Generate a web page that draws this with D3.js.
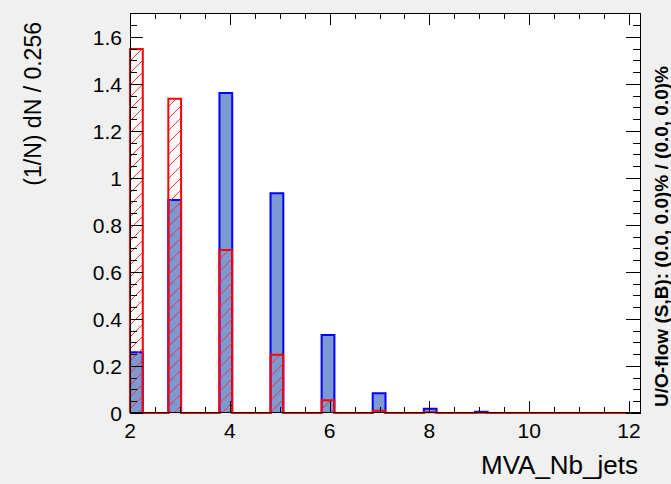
<!DOCTYPE html>
<html>
<head>
<meta charset="utf-8">
<script src="https://cdn.jsdelivr.net/npm/d3@7"></script>
<style>
  html, body { margin: 0; padding: 0; background: #f0f0f0; }
  svg { display: block; }
  text { font-family: "Liberation Sans", Arial, Helvetica, sans-serif; fill: #000; }
</style>
</head>
<body>
<script>
// Histogram binning of MVA_Nb_jets
const binLow = 2;
const binWidth = 0.256;
const nBins = 40;

// Normalised densities (1/N) dN / 0.256 per bin
const signal = [
  0.258, 0, 0, 0.906, 0, 0, 0, 1.362, 0, 0,
  0, 0.935, 0, 0, 0, 0.332, 0, 0, 0, 0.084,
  0, 0, 0, 0.018, 0, 0, 0, 0.005, 0, 0,
  0, 0, 0, 0, 0, 0, 0, 0, 0, 0
];
const background = [
  1.549, 0, 0, 1.337, 0, 0, 0, 0.694, 0, 0,
  0, 0.248, 0, 0, 0, 0.054, 0, 0, 0, 0.010,
  0, 0, 0, 0.003, 0, 0, 0, 0.001, 0, 0,
  0, 0, 0, 0, 0, 0, 0, 0, 0, 0
];

// Axis ticks and labels
const xMajor = [2, 4, 6, 8, 10, 12];
const xMajorLabels = ["2", "4", "6", "8", "10", "12"];
const yMajor = [0, 0.2, 0.4, 0.6, 0.8, 1.0, 1.2, 1.4, 1.6];
const yMajorLabels = ["0", "0.2", "0.4", "0.6", "0.8", "1", "1.2", "1.4", "1.6"];
const yMax = 1.702;

const xTitle = "MVA_Nb_jets";
const yTitle = "(1/N) dN / 0.256";
const flowText = "U/O-flow (S,B): (0.0, 0.0)% / (0.0, 0.0)%";

const W = 671, H = 484;
const frame = { left: 130, right: 641, top: 13, bottom: 413 };

const svg = d3.select("body").append("svg")
  .attr("width", W).attr("height", H);

svg.append("rect").attr("width", W).attr("height", H).attr("fill", "#f0f0f0");

const xMaxVal = binLow + nBins * binWidth;
const x = d3.scaleLinear().domain([binLow, xMaxVal]).range([frame.left, frame.right]);
const y = d3.scaleLinear().domain([0, yMax]).range([frame.bottom, frame.top]);

// plot frame
svg.append("rect")
  .attr("x", frame.left).attr("y", frame.top)
  .attr("width", frame.right - frame.left)
  .attr("height", frame.bottom - frame.top)
  .attr("fill", "#ffffff");

// step outline of a histogram, running along zero between filled bins
function stepPoints(vals) {
  const p = d3.path();
  p.moveTo(x(binLow), y(0));
  vals.forEach((v, i) => {
    const x0 = x(binLow + i * binWidth);
    const x1 = x(binLow + (i + 1) * binWidth);
    p.lineTo(x0, y(v));
    p.lineTo(x1, y(v));
  });
  p.lineTo(x(xMaxVal), y(0));
  return p;
}
function stepArea(vals) {
  const p = stepPoints(vals);
  p.closePath();
  return p.toString();
}
function stepLine(vals) {
  return stepPoints(vals).toString();
}

const defs = svg.append("defs");
defs.append("clipPath").attr("id", "bkgClip")
  .append("path").attr("d", stepArea(background));

const plot = svg.append("g");

// signal: solid fill
plot.append("path").attr("d", stepArea(signal))
  .attr("fill", "#7d99d1").attr("stroke", "none");
plot.append("path").attr("d", stepLine(signal))
  .attr("fill", "none").attr("stroke", "#0000ff").attr("stroke-width", 2);

// background: diagonal hatching clipped to the histogram area
const hatchStep = 12;
const span = frame.bottom - frame.top;
const hatch = plot.append("g").attr("clip-path", "url(#bkgClip)");
hatch.selectAll("line")
  .data(d3.range(frame.left - span, frame.right + hatchStep, hatchStep))
  .join("line")
  .attr("x1", d => d).attr("y1", frame.bottom)
  .attr("x2", d => d + span).attr("y2", frame.top)
  .attr("stroke", "#ff3030")
  .attr("stroke-width", 1);
plot.append("path").attr("d", stepLine(background))
  .attr("fill", "none").attr("stroke", "#ff0000").attr("stroke-width", 2);

// axes with inward ticks on all four sides
const axes = svg.append("g").attr("stroke", "#000").attr("stroke-width", 1)
  .attr("shape-rendering", "crispEdges");

const xMinor = d3.range(binLow, xMaxVal + 1e-9, 0.5).filter(v => !xMajor.includes(v));
const yMinor = d3.range(0, yMax + 1e-9, 0.05).map(v => +v.toFixed(2))
  .filter(v => !yMajor.some(m => Math.abs(m - v) < 1e-6));

function xTicks(vals, len) {
  vals.forEach(v => {
    const px = Math.round(x(v)) + 0.5;
    axes.append("line").attr("x1", px).attr("x2", px)
      .attr("y1", frame.bottom).attr("y2", frame.bottom - len);
    axes.append("line").attr("x1", px).attr("x2", px)
      .attr("y1", frame.top).attr("y2", frame.top + len);
  });
}
function yTicks(vals, lenL, lenR) {
  vals.forEach(v => {
    const py = Math.round(y(v)) + 0.5;
    axes.append("line").attr("x1", frame.left).attr("x2", frame.left + lenL)
      .attr("y1", py).attr("y2", py);
    axes.append("line").attr("x1", frame.right).attr("x2", frame.right - lenR)
      .attr("y1", py).attr("y2", py);
  });
}
xTicks(xMajor, 12);
xTicks(xMinor, 6);
yTicks(yMajor, 13, 15);
yTicks(yMinor, 7, 8);

axes.append("rect")
  .attr("x", frame.left + 0.5).attr("y", frame.top + 0.5)
  .attr("width", frame.right - frame.left - 1)
  .attr("height", frame.bottom - frame.top - 1)
  .attr("fill", "none");

// tick labels
svg.append("g").selectAll("text").data(xMajor).join("text")
  .attr("x", d => x(d)).attr("y", 438)
  .attr("text-anchor", "middle")
  .attr("font-size", 21)
  .text((d, i) => xMajorLabels[i]);

svg.append("g").selectAll("text").data(yMajor).join("text")
  .attr("x", 122).attr("y", d => y(d))
  .attr("dy", "0.36em")
  .attr("text-anchor", "end")
  .attr("font-size", 21)
  .text((d, i) => yMajorLabels[i]);

// axis titles
svg.append("text")
  .attr("x", 638).attr("y", 474)
  .attr("text-anchor", "end")
  .attr("font-size", 26)
  .text(xTitle);

svg.append("text")
  .attr("transform", "translate(41,22) rotate(-90)")
  .attr("text-anchor", "end")
  .attr("font-size", 23)
  .text(yTitle);

// under/overflow note along the right edge
svg.append("text")
  .attr("transform", "translate(668,407) rotate(-90)")
  .attr("text-anchor", "start")
  .attr("font-size", 19)
  .attr("font-weight", "bold")
  .text(flowText);
</script>
</body>
</html>
